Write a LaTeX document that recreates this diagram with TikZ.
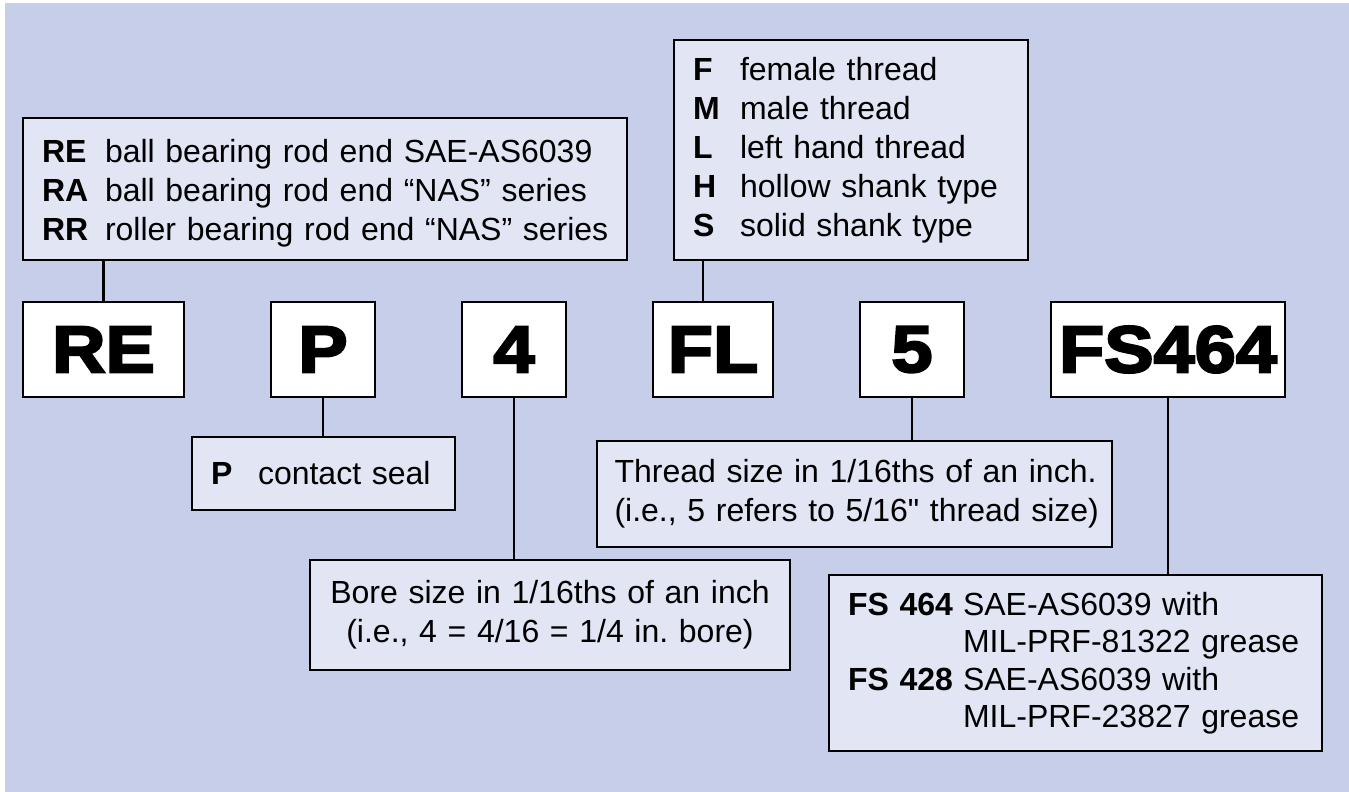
\documentclass[tikz,border=0pt]{standalone}
\usepackage{fontspec}
\setmainfont{Liberation Sans}
\newfontfamily\codefont[FakeBold=3.5,FakeStretch=1.12]{Liberation Sans Bold}
\usetikzlibrary{positioning}

\definecolor{panelblue}{HTML}{C7CEEA}
\definecolor{notefill}{HTML}{E1E5F4}
\newcommand{\notetext}{\fontsize{32pt}{39pt}\selectfont}
\newcommand{\keyline}[3]{\mbox{\makebox[#1][l]{\bfseries #2}#3}}
\frenchspacing

\begin{document}
\begin{tikzpicture}
    [
        x=1pt, y=-1pt,
        node distance=87pt,
        code/.style={draw, line width=2.5pt, fill=white, minimum height=95pt, inner sep=0pt, outer sep=0pt,
            font=\codefont\fontsize{66pt}{66pt}\selectfont},
        note/.style={draw, line width=2.5pt, fill=notefill, anchor=north west, inner xsep=19pt, inner ysep=0pt,
            outer sep=0pt, align=left, font=\notetext},
        link/.style={line width=2.5pt}
    ]
        \useasboundingbox (0,0) rectangle (1349,792);
        \fill [panelblue] (5,3) rectangle (1349,792);

        % --- part number row ---
        \node [code, minimum width=161pt, anchor=north west] (re) at (23,302) {RE};
        \node [code, minimum width=104pt, right=of re] (p) {P};
        \node [code, minimum width=104pt, right=of p] (four) {4};
        \node [code, minimum width=120pt, right=of four] (fl) {FL};
        \node [code, minimum width=104pt, right=of fl] (five) {5};
        \node [code, minimum width=234pt, right=of five] (fs) {FS464};

        % --- notes above ---
        \node [note, text width=566pt, minimum height=142pt] (redesc) at (23,118)
            {\rule{0pt}{32pt}\keyline{63pt}{RE}{ball bearing rod end SAE-AS6039}\\
             \keyline{63pt}{RA}{ball bearing rod end “NAS” series}\\
             \keyline{63pt}{RR}{roller bearing rod end “NAS” series}};
        \node [note, text width=316pt, minimum height=220pt] (fldesc) at (674,40)
            {\keyline{47pt}{F}{female thread}\\
             \keyline{47pt}{M}{male thread}\\
             \keyline{47pt}{L}{left hand thread}\\
             \keyline{47pt}{H}{hollow shank type}\\
             \keyline{47pt}{S}{solid shank type}};

        % --- notes below ---
        \node [note, text width=225pt, minimum height=73pt] (pdesc) at (192,437)
            {\keyline{47pt}{P}{contact seal}};
        \node [note, text width=442pt, minimum height=110pt, align=center] (boredesc) at (310,560)
            {\mbox{Bore size in 1/16ths of an inch}\\
             \mbox{(i.e., 4 = 4/16 = 1/4 in. bore)}};
        \node [note, text width=480pt, inner xsep=17.5pt, minimum height=106pt] (threaddesc) at (597,441)
            {\mbox{Thread size in 1/16ths of an inch.}\\
             \mbox{(i.e., 5 refers to 5/16\textquotedbl{} thread size)}};
        \node [note, text width=455pt, minimum height=176pt, font=\fontsize{32pt}{37.5pt}\selectfont] (fsdesc) at (829,575)
            {\keyline{115pt}{FS 464}{SAE-AS6039 with}\\
             \keyline{115pt}{}{MIL-PRF-81322 grease}\\
             \keyline{115pt}{FS 428}{SAE-AS6039 with}\\
             \keyline{115pt}{}{MIL-PRF-23827 grease}};

        % --- leaders ---
        \draw [link] (re.north) -- (re.north |- redesc.south);
        \draw [link] ([xshift=-10pt]fl.north) -- ([xshift=-10pt]fl.north |- fldesc.south);
        \draw [link] (p.south) -- (p.south |- pdesc.north);
        \draw [link] (four.south) -- (four.south |- boredesc.north);
        \draw [link] (five.south) -- (five.south |- threaddesc.north);
        \draw [link] (fs.south) -- (fs.south |- fsdesc.north);
\end{tikzpicture}
\end{document}
